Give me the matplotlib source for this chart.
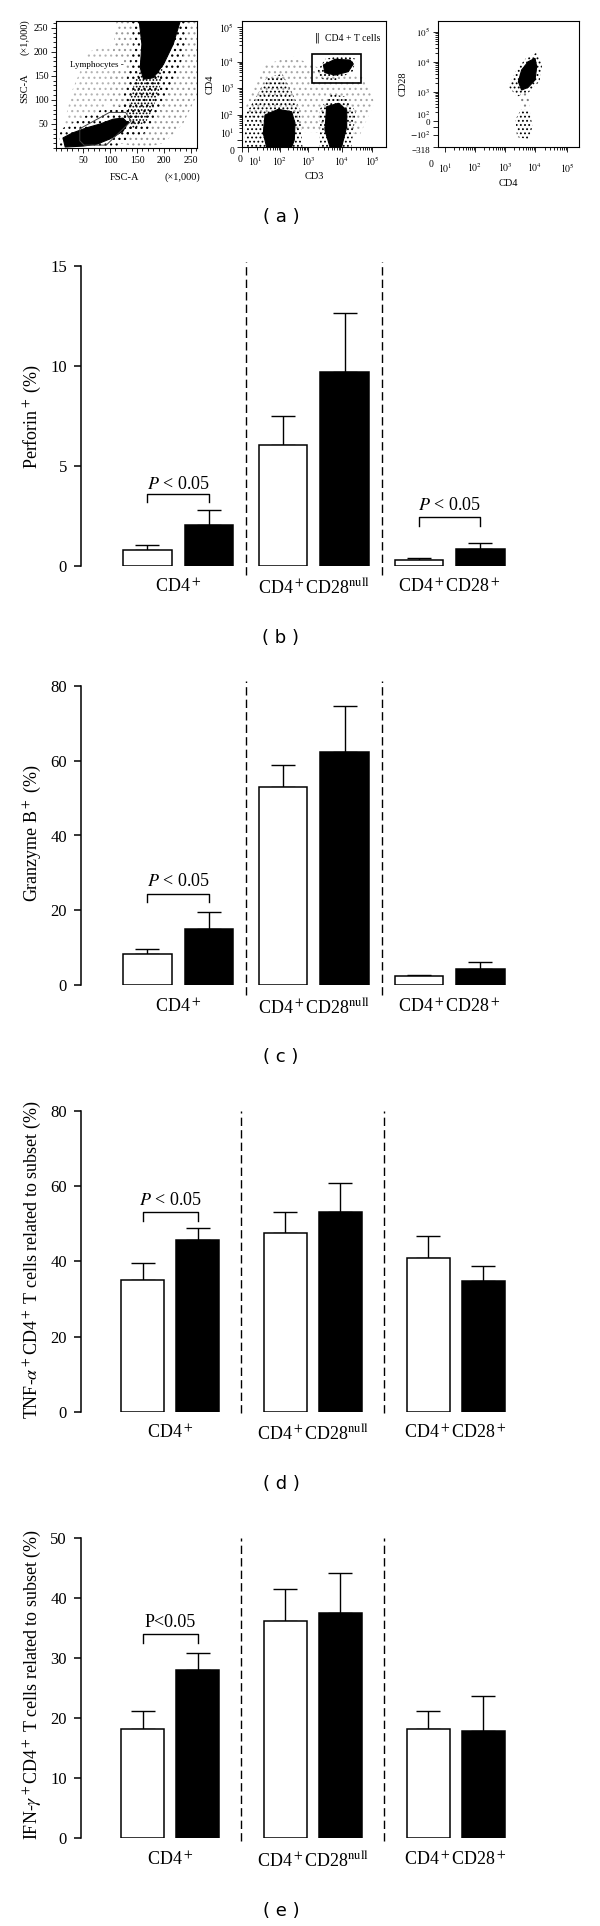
import numpy as np
import matplotlib.pyplot as plt
from matplotlib.patches import Polygon, Rectangle
from matplotlib.ticker import MultipleLocator

plt.rcParams['font.family'] = ['Liberation Serif', 'DejaVu Serif']
plt.rcParams['mathtext.fontset'] = 'stix'
plt.rcParams['hatch.linewidth'] = 0.8

W, H = 600, 1926

# ---- bar chart data (mean, upper SEM) ----
groups = [r'CD4$^+$', r'CD4$^+$CD28$^{\mathrm{null}}$', r'CD4$^+$CD28$^+$']

perf_white = [0.80, 6.03, 0.27]
perf_white_err = [0.23, 1.45, 0.10]
perf_black = [2.03, 9.68, 0.82]
perf_black_err = [0.77, 2.97, 0.33]

gzb_white = [8.4, 52.9, 2.4]
gzb_white_err = [1.4, 5.8, 0.4]
gzb_black = [14.9, 62.2, 4.3]
gzb_black_err = [4.7, 12.4, 1.8]

tnf_white = [35.1, 47.5, 40.9]
tnf_white_err = [4.4, 5.6, 5.8]
tnf_black = [45.6, 53.0, 34.8]
tnf_black_err = [3.3, 7.9, 4.0]

ifn_white = [18.2, 36.3, 18.2]
ifn_white_err = [3.1, 5.2, 3.0]
ifn_black = [28.0, 37.5, 17.9]
ifn_black_err = [2.9, 6.8, 5.9]

# significance brackets: group, bracket top, leg end, text height
perf_brackets = [(0, 3.6, 3.17, 4.05), (2, 2.43, 1.98, 3.03)]
gzb_brackets = [(0, 24.5, 22.2, 27.7)]
tnf_brackets = [(0, 53.0, 50.7, 56.2)]
ifn_brackets = [(0, 34.05, 32.5, 35.9)]

# ---- flow cytometry panels: cloud outlines ----
# FSC-A / SSC-A (x1000)
fsc_halo_wide = [(112, 264), (261, 264), (261, 110), (235, 50), (200, 10), (160, 0), (118, 10),
                 (100, 60), (100, 150)]
fsc_halo_left = [(15, 50), (30, 120), (60, 200), (100, 215), (112, 150), (95, 90), (40, 45)]
fsc_lymph_halo = [(5, 5), (8, 38), (40, 60), (90, 82), (135, 90), (150, 60), (140, 25), (110, 0), (5, 0)]
fsc_band_mid = [(140, 264), (245, 264), (235, 190), (212, 120), (185, 60), (160, 25), (128, 30),
                (120, 75), (132, 150), (143, 215)]
fsc_band_low = [(155.6, 167.3), (198.7, 174.4), (192.6, 125.8), (180.2, 84.1), (167.9, 56.3),
                (143.2, 39.0), (130.9, 63.2), (137.0, 104.9), (146.3, 139.6)]
fsc_band_core = [(154, 264), (230, 264), (217, 216), (199, 174), (180, 146), (162, 143),
                 (156, 167), (159, 216)]
fsc_lymph_core = [(13, 21), (30, 31), (57, 42), (82, 50), (106, 60), (124, 62), (133, 52),
                  (124, 35), (100, 19), (76, 8), (50, 4), (17, 2)]
fsc_gate = [(44, 40), (99, 74), (129, 74), (139, 56), (93, 6), (52, 6), (44, 15)]

# CD3 / CD4 (axis fraction)
cd3_spread = [(0.02, 0.30), (0.15, 0.65), (0.35, 0.72), (0.55, 0.62), (0.85, 0.56), (0.92, 0.35),
              (0.82, 0.10), (0.45, 0.12), (0.20, 0.08)]
cd3_dn_halo = [(0.02, 0.0), (0.02, 0.25), (0.10, 0.40), (0.17, 0.55), (0.28, 0.58), (0.34, 0.45),
               (0.40, 0.30), (0.42, 0.0)]
cd3_dn_core = [(0.160, 0.254), (0.252, 0.299), (0.345, 0.280), (0.368, 0.188), (0.363, 0.056),
               (0.345, 0.0), (0.171, 0.0), (0.148, 0.109)]
cd3_cd8_halo = [(0.54, 0.0), (0.54, 0.30), (0.62, 0.42), (0.72, 0.40), (0.79, 0.28), (0.76, 0.0)]
cd3_cd8_core = [(0.588, 0.320), (0.669, 0.347), (0.727, 0.294), (0.727, 0.161), (0.692, 0.0),
                (0.611, 0.0), (0.576, 0.135)]
cd3_cd4_halo = [(0.52, 0.60), (0.58, 0.70), (0.70, 0.73), (0.79, 0.70), (0.77, 0.60), (0.65, 0.53),
                (0.55, 0.54)]
cd3_cd4_core = [(0.565, 0.651), (0.646, 0.696), (0.750, 0.690), (0.773, 0.659), (0.738, 0.598),
                (0.646, 0.571), (0.576, 0.590)]
cd3_gate = (0.486, 0.508, 0.340, 0.230)
cd3_xticks = [0.0, 0.04, 0.264, 0.458, 0.694, 0.903]
cd3_yticks = [0.0, 0.056, 0.254, 0.468, 0.675, 0.95]
log_labels = ['0', '$10^1$', '$10^2$', '$10^3$', '$10^4$', '$10^5$']

# CD4 / CD28 (axis fraction)
cd28_halo = [(0.50, 0.48), (0.55, 0.60), (0.62, 0.70), (0.70, 0.75), (0.74, 0.66), (0.72, 0.52),
             (0.64, 0.43), (0.56, 0.40)]
cd28_core = [(0.570, 0.518), (0.593, 0.611), (0.640, 0.677), (0.688, 0.704), (0.700, 0.638),
             (0.688, 0.532), (0.640, 0.474), (0.593, 0.452)]
cd28_trail = [(0.59, 0.30), (0.58, 0.45), (0.64, 0.45), (0.65, 0.30)]
cd28_null = [(0.56, 0.08), (0.55, 0.22), (0.59, 0.30), (0.65, 0.29), (0.67, 0.16), (0.64, 0.06)]
cd28_xticks = [0.05, 0.262, 0.475, 0.688, 0.915]
cd28_yticks = [0.0, 0.095, 0.159, 0.206, 0.437, 0.675, 0.913]
cd28_ylabels = ['\u2212318', '$-10^2$', '0', '$10^2$', '$10^3$', '$10^4$', '$10^5$']

fig = plt.figure(figsize=(W / 100, H / 100), dpi=100)


def px_axes(l, t, r, b):
    return fig.add_axes([l / W, 1 - b / H, (r - l) / W, (b - t) / H])


def dots(ax, verts, hatch, shade='black'):
    ax.add_patch(Polygon(verts, closed=True, fc='none', ec=shade, lw=0, hatch=hatch))


def solid(ax, verts):
    ax.add_patch(Polygon(verts, closed=True, fc='black', ec='black', lw=0.8))


def log_minor(major):
    out = []
    for a, b in zip(major[1:-1], major[2:]):
        out += [a + np.log10(m) * (b - a) for m in range(2, 10)]
    return out


def flow_style(ax):
    for s in ax.spines.values():
        s.set_linewidth(0.8)
    ax.tick_params(which='both', direction='out', labelsize=7, width=0.6, pad=2)
    ax.tick_params(which='major', length=3.5)
    ax.tick_params(which='minor', length=2)


# (a) left: FSC/SSC
ax = px_axes(56, 21, 197, 148)
ax.set_xlim(0, 261)
ax.set_ylim(0, 264)
dots(ax, fsc_halo_wide, '...', '0.6')
dots(ax, fsc_halo_left, '...', '0.7')
dots(ax, fsc_band_mid, '...')
dots(ax, fsc_lymph_halo, '...')
dots(ax, fsc_band_low, '.....')
solid(ax, fsc_band_core)
solid(ax, fsc_lymph_core)
ax.add_patch(Polygon(fsc_gate, closed=True, fc='none', ec='0.25', lw=0.7))
ax.text(75, 173, 'Lymphocytes -', fontsize=6.5, ha='center', va='center',
        bbox=dict(fc='white', ec='none', pad=0.3))
ax.set_xticks([50, 100, 150, 200, 250])
ax.set_yticks([50, 100, 150, 200, 250])
ax.xaxis.set_minor_locator(MultipleLocator(10))
ax.yaxis.set_minor_locator(MultipleLocator(10))
flow_style(ax)
fig.text(125 / W, 1 - 177 / H, 'FSC-A', fontsize=7.5, ha='center', va='center')
fig.text(200 / W, 1 - 177 / H, '(\u00d71,000)', fontsize=7.5, ha='right', va='center')
fig.text(25 / W, 1 - 88 / H, 'SSC-A', fontsize=7.5, ha='center', va='center', rotation=90)
fig.text(25 / W, 1 - 37 / H, '(\u00d71,000)', fontsize=7.5, ha='center', va='center', rotation=90)

# (a) middle: CD3/CD4
ax = px_axes(242, 21, 386, 147)
ax.set_xlim(0, 1)
ax.set_ylim(0, 1)
dots(ax, cd3_spread, '...', '0.65')
dots(ax, cd3_dn_halo, '....')
dots(ax, cd3_cd8_halo, '....')
dots(ax, cd3_cd4_halo, '....')
for core in (cd3_dn_core, cd3_cd8_core, cd3_cd4_core):
    solid(ax, core)
gx, gy, gw, gh = cd3_gate
ax.add_patch(Rectangle((gx, gy), gw, gh, fc='none', ec='black', lw=1.2))
ax.text(0.52, 0.865, '\u2016', fontsize=7, family='DejaVu Sans', ha='center', va='center')
ax.text(0.576, 0.865, 'CD4 + T cells', fontsize=7, ha='left', va='center')
ax.set_xticks(cd3_xticks)
ax.set_xticklabels(log_labels)
ax.set_yticks(cd3_yticks)
ax.set_yticklabels(log_labels)
ax.set_xticks(log_minor(cd3_xticks), minor=True)
ax.set_yticks(log_minor(cd3_yticks), minor=True)
flow_style(ax)
xl = ax.get_xticklabels()
xl[0].set_ha('right')
xl[1].set_ha('left')
yl = ax.get_yticklabels()
yl[0].set_va('top')
yl[1].set_va('bottom')
ax.set_xlabel('CD3', fontsize=7.5, labelpad=3)
ax.set_ylabel('CD4', fontsize=7.5, labelpad=3)

# (a) right: CD4/CD28
ax = px_axes(438, 21, 579, 147)
ax.set_xlim(0, 1)
ax.set_ylim(0, 1)
dots(ax, cd28_trail, '...', '0.5')
dots(ax, cd28_null, '....')
dots(ax, cd28_halo, '....')
solid(ax, cd28_core)
ax.set_xticks(cd28_xticks)
ax.set_xticklabels(log_labels[1:])
ax.set_yticks(cd28_yticks)
ax.set_yticklabels(cd28_ylabels)
ax.set_xticks(log_minor([0.0] + cd28_xticks), minor=True)
ax.set_yticks(log_minor([0.0, 0.206, 0.437, 0.675, 0.913]), minor=True)
flow_style(ax)
ax.tick_params(axis='y', which='major', labelsize=6.5)
yl = ax.get_yticklabels()
yl[0].set_va('top')
yl[1].set_va('center')
yl[2].set_va('bottom')
yl[3].set_va('bottom')
ax.tick_params(axis='x', which='major', pad=7)
ax.text(-0.05, -0.135, '0', fontsize=7, ha='center', va='center', transform=ax.transAxes)
ax.set_xlabel('CD4', fontsize=7.5, labelpad=3)
ax.set_ylabel('CD28', fontsize=7.5, labelpad=2)

fig.text(281 / W, 1 - 217 / H, '( a )', fontsize=13, family='DejaVu Sans', ha='center', va='center')


def bar_panel(spine_x, top_px, zero_px, dash, centre0, step, width, off, ymax, yticks,
              white, white_err, black, black_err, ylabel, ylabel_y, brackets, ptext, tag, tag_y):
    ax = px_axes(spine_x, top_px, W, zero_px)
    ax.patch.set_visible(False)
    scale = (zero_px - top_px) / ymax
    ax.set_ylim(0, ymax)
    ax.set_xlim((spine_x - centre0) / step, (W - centre0) / step)
    x = np.arange(len(groups))
    w = width / step
    o = off / step
    ax.bar(x - o, white, w, color='white', edgecolor='black', linewidth=1.1, zorder=3)
    ax.bar(x + o, black, w, color='black', edgecolor='black', linewidth=1.1, zorder=3)
    for xs, m, e in ((x - o, white, white_err), (x + o, black, black_err)):
        ax.errorbar(xs, m, yerr=[np.zeros(len(m)), e], fmt='none', ecolor='black',
                    elinewidth=1.0, capsize=8.6, capthick=1.0, zorder=2)
    lo = -(dash[1] - zero_px) / scale
    hi = ymax + (top_px - dash[0]) / scale
    for xv in (0.5, 1.5):
        ax.plot([xv, xv], [lo, hi], color='black', lw=1.0, ls=(0, (6, 3)), clip_on=False)
    for side in ('top', 'right', 'bottom'):
        ax.spines[side].set_visible(False)
    ax.spines['left'].set_linewidth(1.1)
    ax.spines['left'].set_bounds(0, ymax)
    ax.set_yticks(yticks)
    ax.tick_params(axis='y', length=5, width=1.1, labelsize=12, pad=5)
    ax.set_xticks(x)
    ax.set_xticklabels(groups, fontsize=13)
    ax.tick_params(axis='x', length=0, pad=9)
    for gi, top, leg, ty in brackets:
        x1, x2 = gi - o, gi + o
        ax.plot([x1, x1, x2, x2], [leg, top, top, leg], color='black', lw=1.0)
        ax.text(gi, ty, ptext, ha='center', va='center', fontsize=13)
    fig.text(32 / W, 1 - ylabel_y / H, ylabel, rotation=90, ha='center', va='center', fontsize=13)
    fig.text(281 / W, 1 - tag_y / H, tag, ha='center', va='center', fontsize=13, family='DejaVu Sans')


bar_panel(81, 265.7, 565.7, (262, 575), 178, 135.75, 48.5, 30.75, 15, [0, 5, 10, 15],
          perf_white, perf_white_err, perf_black, perf_black_err,
          r'Perforin$^+$ (%)', 416, perf_brackets, r'$P$ < 0.05', '( b )', 638)
bar_panel(81, 685.7, 985.3, (680.7, 995), 178, 135.75, 48.5, 30.75, 80, [0, 20, 40, 60, 80],
          gzb_white, gzb_white_err, gzb_black, gzb_black_err,
          r'Granzyme B$^+$ (%)', 833, gzb_brackets, r'$P$ < 0.05', '( c )', 1057)
bar_panel(80.7, 1111, 1411.7, (1111, 1413), 170, 142.75, 43, 27.5, 80, [0, 20, 40, 60, 80],
          tnf_white, tnf_white_err, tnf_black, tnf_black_err,
          r'TNF-$\alpha^+$CD4$^+$ T cells related to subset (%)', 1260, tnf_brackets,
          r'$P$ < 0.05', '( d )', 1484)
bar_panel(80.7, 1538.3, 1838.3, (1538, 1840.7), 170, 142.75, 43, 27.5, 50, [0, 10, 20, 30, 40, 50],
          ifn_white, ifn_white_err, ifn_black, ifn_black_err,
          r'IFN-$\gamma^+$CD4$^+$ T cells related to subset (%)', 1684, ifn_brackets,
          'P<0.05', '( e )', 1911)

fig.savefig('out.png', dpi=100)
